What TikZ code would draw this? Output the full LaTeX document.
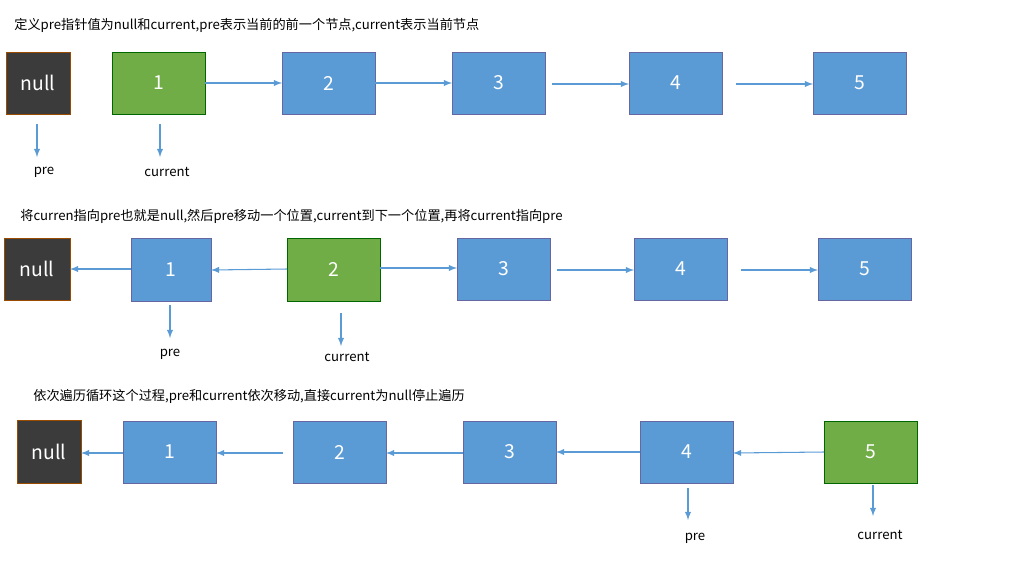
\documentclass[tikz,border=0pt]{standalone}
\usepackage{fontspec}
\setmainfont{Noto Sans CJK SC}
\begin{document}
\begin{tikzpicture}[x=0.02cm,y=-0.02cm,
  box/.style={draw=blue!40!black!60,fill=bl,text=white,font=\fontsize{11}{13}\selectfont},
  gbox/.style={draw=green!40!black,fill=gr,text=white,font=\fontsize{11}{13}\selectfont},
  nbox/.style={draw=orange!60!black,fill=dk,text=white,font=\fontsize{11}{13}\selectfont},
  arr/.style={draw=ar,-latex,line width=0.6pt},
  lbl/.style={font=\fontsize{7.5}{9}\selectfont,inner sep=0pt},
  ttl/.style={font=\fontsize{7.5}{9}\selectfont,anchor=west,inner sep=0pt}]
\definecolor{bl}{HTML}{5B9BD5}\definecolor{gr}{HTML}{70AD47}\definecolor{dk}{HTML}{3B3B3B}\definecolor{ar}{HTML}{5B9BD5}
\useasboundingbox (0,0) rectangle (1030,565);
\newcommand{\bx}[6]{\path[#1] (#3,#4) rectangle (#5,#6); \node[#1,draw=none,fill=none] (#2) at ({(#3+#5)/2},{(#4+#6)/2}) {};}
% Row 1
\node[ttl] (t1) at (14,25) {定义pre指针值为null和current,pre表示当前的前一个节点,current表示当前节点};
\draw[nbox] (6,52) rectangle (70,114) node[midway,text=white] (a0) {null};
\draw[gbox] (112,52) rectangle (205,114) node[midway] (a1) {1};
\draw[box] (282,52) rectangle (375,114) node[midway] (a2) {2};
\draw[box] (452,52) rectangle (545,114) node[midway] (a3) {3};
\draw[box] (629,52) rectangle (722,114) node[midway] (a4) {4};
\draw[box] (813,52) rectangle (906,114) node[midway] (a5) {5};
\coordinate (a1r) at (205,83); \coordinate (a2l) at (282,83);
\coordinate (a2r) at (375,83); \coordinate (a3l) at (452,83);
\coordinate (a3r) at (552,84); \coordinate (a4l) at (629,84);
\coordinate (a4r) at (736,84); \coordinate (a5l) at (813,84);
\draw[arr] (a1r)--(a2l); \draw[arr] (a2r)--(a3l); \draw[arr] (a3r)--(a4l); \draw[arr] (a4r)--(a5l);
\coordinate (p1s) at (37,124); \coordinate (p1e) at (37,157);
\coordinate (c1s) at (160,124); \coordinate (c1e) at (160,157);
\draw[arr] (p1s)--(p1e); \draw[arr] (c1s)--(c1e);
\node[lbl] (pl1) at (44,172) {pre}; \node[lbl] (cl1) at (167,172) {current};
% Row 2
\node[ttl] (t2) at (20,216) {将curren指向pre也就是null,然后pre移动一个位置,current到下一个位置,再将current指向pre};
\draw[nbox] (4,238) rectangle (70,300) node[midway] (b0) {null};
\draw[box] (131,238) rectangle (211,301) node[midway] (b1) {1};
\draw[gbox] (287,238) rectangle (380,301) node[midway] (b2) {2};
\draw[box] (457,238) rectangle (550,300) node[midway] (b3) {3};
\draw[box] (634,238) rectangle (727,300) node[midway] (b4) {4};
\draw[box] (818,238) rectangle (911,300) node[midway] (b5) {5};
\coordinate (b1l) at (131,269); \coordinate (b0r) at (70,269);
\coordinate (b2l) at (287,269); \coordinate (b1r) at (211,270);
\coordinate (b2r) at (380,268); \coordinate (b3l) at (457,268);
\coordinate (b3r) at (557,270); \coordinate (b4l) at (634,270);
\coordinate (b4r) at (741,270); \coordinate (b5l) at (818,270);
\draw[arr] (b1l)--(b0r); \draw[arr] (b2l)--(b1r); \draw[arr] (b2r)--(b3l); \draw[arr] (b3r)--(b4l); \draw[arr] (b4r)--(b5l);
\coordinate (p2s) at (170,305); \coordinate (p2e) at (170,338);
\coordinate (c2s) at (341,313); \coordinate (c2e) at (341,346);
\draw[arr] (p2s)--(p2e); \draw[arr] (c2s)--(c2e);
\node[lbl] (pl2) at (170,354) {pre}; \node[lbl] (cl2) at (347,357) {current};
% Row 3
\node[ttl] (t3) at (33,396) {依次遍历循环这个过程,pre和current依次移动,直接current为null停止遍历};
\draw[nbox] (17,420) rectangle (81,483) node[midway] (c0) {null};
\draw[box] (123,421) rectangle (216,483) node[midway] (c1) {1};
\draw[box] (293,421) rectangle (386,483) node[midway] (c2) {2};
\draw[box] (463,421) rectangle (556,483) node[midway] (c3) {3};
\draw[box] (640,421) rectangle (733,483) node[midway] (c4) {4};
\draw[gbox] (824,421) rectangle (917,483) node[midway] (c5) {5};
\coordinate (c1l) at (123,453); \coordinate (c0r) at (81,453);
\coordinate (c2l) at (283,453); \coordinate (c1r) at (216,453);
\coordinate (c3l) at (463,453); \coordinate (c2r) at (386,453);
\coordinate (c4l) at (640,452); \coordinate (c3r) at (556,452);
\coordinate (c5l) at (824,452); \coordinate (c4r) at (733,453);
\draw[arr] (c1l)--(c0r); \draw[arr] (c2l)--(c1r); \draw[arr] (c3l)--(c2r); \draw[arr] (c4l)--(c3r); \draw[arr] (c5l)--(c4r);
\coordinate (p3s) at (688,488); \coordinate (p3e) at (688,520);
\coordinate (c3s) at (873,485); \coordinate (c3e) at (873,516);
\draw[arr] (p3s)--(p3e); \draw[arr] (c3s)--(c3e);
\node[lbl] (pl3) at (695,538) {pre}; \node[lbl] (cl3) at (880,535) {current};
\end{tikzpicture}
\end{document}
